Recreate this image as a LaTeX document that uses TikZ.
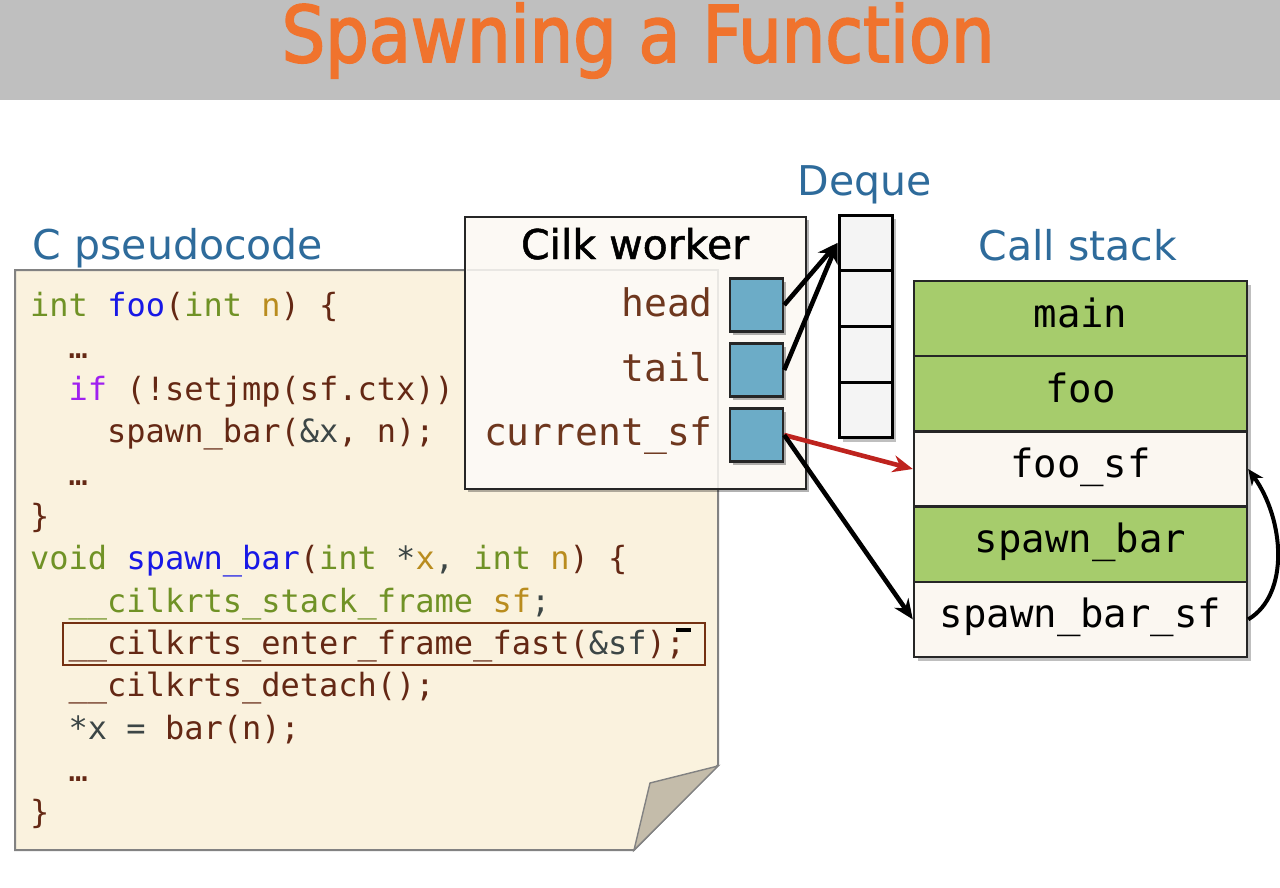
\documentclass[tikz,border=0pt]{standalone}
\usepackage{fontspec}
\setmainfont{DejaVu Sans}
\newfontfamily\codefont{DejaVu Sans Mono}
\newfontfamily\titlefont[FakeBold=2.5]{DejaVu Sans}
\newfontfamily\semifont[FakeBold=1.2]{DejaVu Sans}
\usetikzlibrary{shadows,arrows.meta}
\definecolor{titlebg}{RGB}{191,191,191}
\definecolor{titleor}{RGB}{240,115,45}
\definecolor{headblue}{RGB}{46,107,155}
\definecolor{paper}{RGB}{250,242,222}
\definecolor{paperedge}{RGB}{130,130,130}
\definecolor{fold}{RGB}{196,188,170}
\definecolor{cint}{RGB}{112,146,38}
\definecolor{cfn}{RGB}{24,24,230}
\definecolor{cbr}{RGB}{100,40,20}
\definecolor{cpar}{RGB}{185,140,30}
\definecolor{cif}{RGB}{160,32,240}
\definecolor{cdk}{RGB}{60,70,70}
\definecolor{lab}{RGB}{110,55,30}
\definecolor{boxbg}{RGB}{252,249,244}
\definecolor{sqblue}{RGB}{108,172,199}
\definecolor{cellgray}{RGB}{244,244,244}
\definecolor{stkgreen}{RGB}{166,204,108}
\definecolor{stkwhite}{RGB}{251,247,241}
\definecolor{redarrow}{RGB}{190,35,30}
\begin{document}
\begin{tikzpicture}[x=1pt,y=-1pt,
  heading/.style={anchor=base,inner sep=0pt,text=headblue,font=\fontsize{41}{48}\selectfont},
  codeline/.style={anchor=base west,inner sep=0pt,text=cbr,font=\codefont\fontsize{32}{38}\selectfont},
  shad/.style={drop shadow={shadow xshift=3pt,shadow yshift=-3pt,opacity=0.3,fill=black}},
  wlabel/.style={anchor=base east,inner sep=0pt,text=lab,font=\codefont\fontsize{38}{44}\selectfont},
  sq/.style={draw=black!85,line width=2.4pt,fill=sqblue,minimum size=53pt,inner sep=0pt,shad},
  cell/.style={draw=black,line width=3pt,fill=cellgray,minimum width=53pt,minimum height=55.75pt,inner sep=0pt},
  row/.style={draw=black!85,line width=2.4pt,minimum width=333pt,minimum height=75.2pt,inner sep=0pt,
    text height=17pt,text depth=0pt,font=\codefont\fontsize{39}{44}\selectfont},
  blkarrow/.style={line width=4.6pt,-{Stealth[length=20pt,width=17pt]}},
]
\useasboundingbox (0,0) rectangle (1280,888);
% title bar
\fill[titlebg] (0,0) rectangle (1280,100);
\node[anchor=base,inner sep=0pt,text=titleor,font=\titlefont\fontsize{78}{90}\selectfont] (title) at (638,62) {\scalebox{0.88}[1]{Spawning a Function}};

% headings
\node[heading] (hcode) at (178,259) {C pseudocode};
\node[heading] (hdeque) at (865,195) {Deque};
\node[heading] (hstack) at (1078,260) {Call stack};

% paper
\draw[paperedge,line width=2pt,fill=paper] (15,270) -- (718,270) -- (718,765) -- (634,850) -- (15,850) -- cycle;
\draw[paperedge,line width=1.4pt,fill=fold] (718,766) -- (650,783) -- (634,850) -- cycle;

% code
\node[codeline] (l1) at (30,316) {\textcolor{cint}{int} \textcolor{cfn}{foo}(\textcolor{cint}{int} \textcolor{cpar}{n}) \{};
\node[codeline] (l2) at (68.5,358.3) {…};
\node[codeline] (l3) at (68.5,400.6) {\textcolor{cif}{if} (!setjmp(sf.ctx))};
\node[codeline] (l4) at (107,442.9) {spawn\_bar(\textcolor{cdk}{\&x}, n);};
\node[codeline] (l5) at (68.5,485.2) {…};
\node[codeline] (l6) at (30,527.5) {\}};
\node[codeline] (l7) at (30,569.8) {\textcolor{cint}{void} \textcolor{cfn}{spawn\_bar}(\textcolor{cint}{int} \textcolor{cdk}{*}\textcolor{cpar}{x}\textcolor{cdk}{,} \textcolor{cint}{int} \textcolor{cpar}{n}) \{};
\node[codeline] (l8) at (68.5,612.1) {\textcolor{cint}{\_\_cilkrts\_stack\_frame} \textcolor{cpar}{sf}\textcolor{cdk}{;}};
\node[codeline] (l9) at (68.5,654.4) {\_\_cilkrts\_enter\_frame\_fast(\textcolor{cdk}{\&sf});};
\node[codeline] (l10) at (68.5,696.7) {\_\_cilkrts\_detach();};
\node[codeline] (l11) at (68.5,739) {\textcolor{cdk}{*x =} bar(n);};
\node[codeline] (l12) at (68.5,781.3) {…};
\node[codeline] (l13) at (30,823.6) {\}};
\draw[cbr!90!orange,line width=2pt] (63,623) rectangle (705,665);
\fill[black] (676,628) rectangle (691,632);

% Cilk worker
\node[draw=black!85,line width=2.2pt,fill=boxbg,minimum width=341pt,minimum height=272pt,inner sep=0pt,shad] (worker) at (635.5,353) {};
\draw[paperedge,opacity=0.15,line width=1.5pt] (466.5,270) -- (718,270) -- (718,487.5);
\node[anchor=base,inner sep=0pt,font=\semifont\fontsize{41}{48}\selectfont] (wtitle) at (635,259) {Cilk worker};
\node[wlabel] (lhead) at (713,316) {head};
\node[wlabel] (ltail) at (713,381) {tail};
\node[wlabel] (lcur) at (713,445) {current\_sf};
\node[sq] (hb) at (756.5,305) {};
\node[sq] (tb) at (756.5,370) {};
\node[sq] (cb) at (756.5,435) {};

% deque
\fill[black,opacity=0.25] (842.5,218.5) rectangle (895.5,441.5);
\node[cell] (dq1) at (865.5,242.9) {};
\node[cell] (dq2) at (865.5,298.6) {};
\node[cell] (dq3) at (865.5,354.4) {};
\node[cell] (dq4) at (865.5,410.1) {};

% call stack
\fill[black,opacity=0.25] (917.5,284.5) rectangle (1250.5,660.5);
\node[row,fill=stkgreen] (smain) at (1080.5,318.6) {main};
\node[row,fill=stkgreen] (sfoo) at (1080.5,393.8) {foo};
\node[row,fill=stkwhite] (fsf) at (1080.5,469) {foo\_sf};
\node[row,fill=stkgreen] (sbar) at (1080.5,544.2) {spawn\_bar};
\node[row,fill=stkwhite] (sbsf) at (1080.5,619.4) {spawn\_bar\_sf};

% arrows
\draw[blkarrow] (hb.east) -- (dq1.west);
\draw[blkarrow] (tb.east) -- (dq1.west);
\draw[blkarrow,redarrow] (cb.east) -- (fsf.west);
\draw[blkarrow] (cb.east) -- (sbsf.west);
\draw[line width=4pt,-{Stealth[length=16pt,width=14pt]}] (sbsf.east) .. controls +(42,-25) and +(36,50) .. (fsf.east);
\end{tikzpicture}
\end{document}
